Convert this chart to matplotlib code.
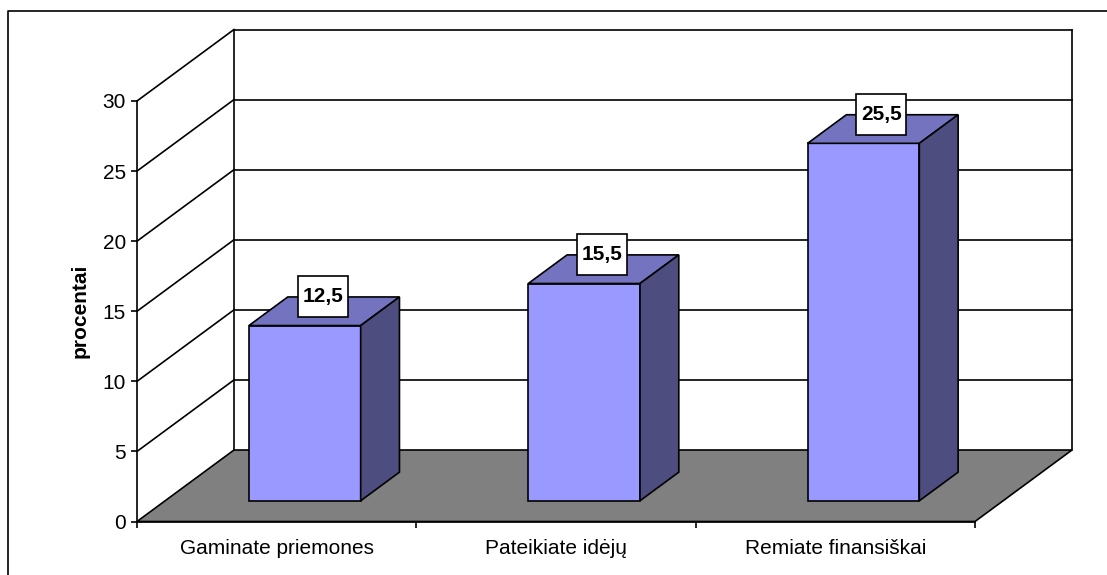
import matplotlib
matplotlib.use('Agg')
import matplotlib.pyplot as plt
from matplotlib.lines import Line2D
from matplotlib.patches import Polygon, Rectangle

plt.rcParams['font.family'] = ['Liberation Sans', 'DejaVu Sans']

categories = ['Gaminate priemones', 'Pateikiate idėjų', 'Remiate finansiškai']
values = [12.5, 15.5, 25.5]
value_labels = ['12,5', '15,5', '25,5']
y_ticks = [0, 5, 10, 15, 20, 25, 30]

W, H = 1107, 575
# front plane of the fake 3d box, in pixels
LEFT, RIGHT, BOTTOM, TOP = 137, 975, 521.5, 101
X_PX = (RIGHT - LEFT) / 3
Y_PX = (BOTTOM - TOP) / 30
# how far the back wall is pushed, in data units
DEPTH_X = 97 / X_PX
DEPTH_Y = 71.5 / Y_PX

FRONT = '#9999ff'
TOP_FACE = '#7373bf'
SIDE = '#4d4d80'
FLOOR = '#808080'
LW = 1.2


def proj(x, y, d):
    return x + d * DEPTH_X, y + d * DEPTH_Y


def face(ax, pts, color, z=2):
    ax.add_patch(Polygon([proj(*p) for p in pts], closed=True, facecolor=color,
                         edgecolor='black', linewidth=LW, clip_on=False, zorder=z))


def edge(ax, a, b):
    ax.plot(*zip(proj(*a), proj(*b)), color='black', lw=LW, clip_on=False, zorder=1)


fig = plt.figure(figsize=(W / 100, H / 100), dpi=100)
ax = fig.add_axes([LEFT / W, 1 - BOTTOM / H, (RIGHT - LEFT) / W, (BOTTOM - TOP) / H])
ax.set_xlim(0, len(categories))
ax.set_ylim(0, 30)
for s in ax.spines.values():
    s.set_visible(False)
ax.patch.set_visible(False)

# chart border, runs off the picture at right and bottom
fig.add_artist(Line2D([8 / W, 8 / W, 1], [0, 1 - 10.5 / H, 1 - 10.5 / H], transform=fig.transFigure,
                      color='black', linewidth=LW))

# walls and gridlines
top_y = 30
face(ax, [(0, 0, 0), (0, 0, 1), (3, 0, 1), (3, 0, 0)], FLOOR, 1)
for t in y_ticks[1:]:
    edge(ax, (0, t, 1), (3, t, 1))
    edge(ax, (0, t, 0), (0, t, 1))
edge(ax, (0, 0, 0), (0, top_y, 0))
edge(ax, (0, 0, 1), (0, top_y, 1))
edge(ax, (3, 0, 1), (3, top_y, 1))
edge(ax, (0, 0, 0), (3, 0, 0))

# bars
bw = 0.4
d0, d1 = 0.29, 0.69
box_w = 50 / X_PX
box_h = 41 / Y_PX
for i, (v, lab) in enumerate(zip(values, value_labels)):
    x0 = i + 0.5 - bw / 2
    x1 = i + 0.5 + bw / 2
    face(ax, [(x0, 0, d0), (x1, 0, d0), (x1, v, d0), (x0, v, d0)], FRONT, 3)
    face(ax, [(x0, v, d0), (x1, v, d0), (x1, v, d1), (x0, v, d1)], TOP_FACE, 3)
    face(ax, [(x1, 0, d0), (x1, 0, d1), (x1, v, d1), (x1, v, d0)], SIDE, 3)
    lx = proj(i + 0.5, v, 0.475)[0]
    ly = proj(i + 0.5, v, d1)[1]
    ax.add_patch(Rectangle((lx - box_w / 2, ly - box_h / 2), box_w, box_h, facecolor='white',
                           edgecolor='black', linewidth=LW, clip_on=False, zorder=5))
    ax.text(lx, ly, lab, ha='center', va='center', fontsize=15, fontweight='bold', zorder=6)

ax.set_yticks(y_ticks)
ax.set_xticks(range(len(categories) + 1))
ax.set_xticklabels([])
ax.set_xticks([i + 0.5 for i in range(len(categories))], labels=categories, minor=True)
ax.tick_params(axis='x', which='major', length=4, width=LW, direction='out')
ax.tick_params(axis='x', which='minor', length=0, labelsize=15, pad=12.5)
ax.tick_params(axis='y', length=4, width=LW, labelsize=15, pad=4)
ax.set_ylabel('procentai', fontsize=15, fontweight='bold', labelpad=9.5)

fig.savefig('out.png', dpi=100)
